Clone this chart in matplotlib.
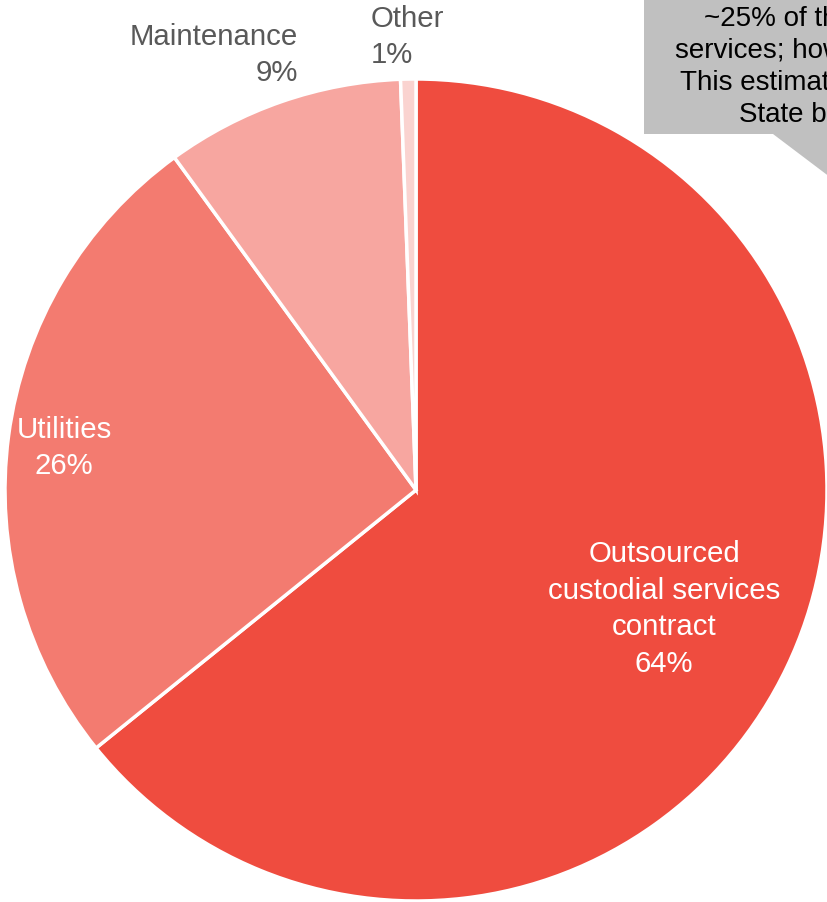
import matplotlib.pyplot as plt
from matplotlib.patches import Polygon

plt.rcParams['font.family'] = ['Liberation Sans', 'DejaVu Sans']

# slice data, clockwise from 12 o'clock
names = ['Outsourced\ncustodial services\ncontract', 'Utilities', 'Maintenance', 'Other']
shares = [64.2, 25.8, 9.4, 0.6]
pct_labels = ['64%', '26%', '9%', '1%']
colors = ['#EF4C3F', '#F37B70', '#F7A6A0', '#FAD3D0']

note_lines = ['~25% of the contract cost covers',
              'services; however, the split is not itemized.',
              'This estimate is derived from other',
              'State bases']

W, H = 827, 902
fig = plt.figure(figsize=(W / 100, H / 100), dpi=100)
ax = fig.add_axes([0, 0, 1, 1])

cx, cy, r = 416, H - 490, 411
ax.pie(shares, colors=colors, startangle=90, counterclock=False,
       center=(cx, cy), radius=r, frame=True,
       wedgeprops=dict(edgecolor='white', linewidth=2.5))
ax.set_xlim(0, W)
ax.set_ylim(0, H)
ax.set_aspect('equal')
ax.axis('off')

fs = 21.2
ls = 1.4
# inside labels
ax.text(664, H - 609, names[0] + '\n' + pct_labels[0], color='white', fontsize=fs,
        ha='center', va='center', multialignment='center', linespacing=ls)
ax.text(64, H - 448, names[1] + '\n' + pct_labels[1], color='white', fontsize=fs,
        ha='center', va='center', multialignment='center', linespacing=ls)
# outside labels
ax.text(298, H - 55, names[2] + '\n' + pct_labels[2], color='#595959', fontsize=fs,
        ha='right', va='center', multialignment='right', linespacing=ls)
ax.text(371, H - 37, names[3] + '\n' + pct_labels[3], color='#595959', fontsize=fs,
        ha='left', va='center', multialignment='left', linespacing=ls)

# callout box with tail (runs off the right edge, as in the source)
box = Polygon([(644, H + 10), (1000, H + 10), (1000, H - 134), (880, H - 134),
               (900, H - 230), (773, H - 134), (644, H - 134)],
              closed=True, facecolor='#C0C0C0', edgecolor='none', zorder=3)
ax.add_patch(box)
for i, (line, x0) in enumerate(zip(note_lines, [704, 675, 680, 739])):
    ax.text(x0, H - 19 - 32 * i, line, color='black', fontsize=20,
            ha='left', va='center', zorder=4, clip_on=True)

fig.savefig('out.png', dpi=100)
